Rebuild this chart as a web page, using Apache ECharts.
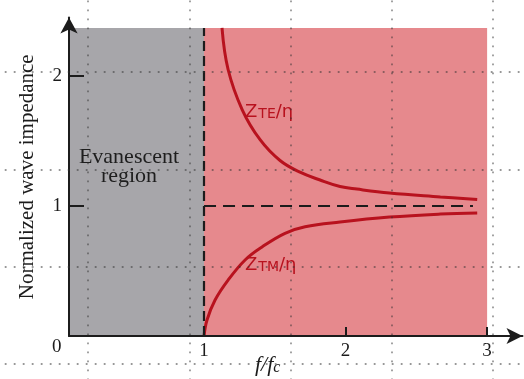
<!DOCTYPE html>
<html>
<head>
<meta charset="utf-8">
<script src="https://cdn.jsdelivr.net/npm/echarts@6/dist/echarts.min.js"></script>
<style>
  html, body { margin: 0; padding: 0; background: #fff; }
  #vis { width: 524px; height: 379px; }
</style>
</head>
<body>
<div id="vis"></div>
<script>
// values (f/fc on x, normalized impedance on y)
const teX = [1.127, 1.17, 1.27, 1.396, 1.537, 1.678, 1.82, 1.961, 2.08, 2.31, 2.67, 2.93];
const teY = [2.37, 2.05, 1.74, 1.51, 1.35, 1.26, 1.20, 1.15, 1.13, 1.10, 1.07, 1.05];
const tmX = [1.0, 1.021, 1.078, 1.17, 1.29, 1.41, 1.572, 1.714, 1.961, 2.31, 2.67, 2.93];
const tmY = [0.0, 0.123, 0.277, 0.43, 0.585, 0.685, 0.79, 0.84, 0.877, 0.915, 0.938, 0.946];
const xLabels = [1, 2, 3];
const xTicks = [2, 3];
const yLabels = [1, 2];
const cutoff = 1;
const shadeTop = 2.37;
const shadeRight = 3;
const dashEnd = 2.9;
// the scan's dotted overlay, in units of its own page grid
const dotCols = [1, 2, 3, 4, 5];
const dotRows = [1, 2, 3, 4];

const vis = document.getElementById("vis");
const chart = echarts.init(vis, null, { renderer: "canvas" });

const serif = "Liberation Serif";
const ink = "#1c1c1c";
const red = "#b8121e";

const toPairs = (xs, ys) => xs.map((x, i) => [x, ys[i]]);

const zLabel = sub => ({
  text: `{z|Z}{s|${sub}}{z|/η}`,
  fill: red,
  rich: {
    z: { fontFamily: "DejaVu Sans", fontSize: 18, fill: red },
    s: { fontFamily: "DejaVu Sans", fontSize: 14, fill: red, padding: [4, 0, 0, 1] }
  }
});

const hiddenAxis = (gridIndex, max) => ({
  type: "value",
  gridIndex,
  min: 0,
  max,
  axisLine: { show: false },
  axisTick: { show: false },
  axisLabel: { show: false },
  splitLine: { show: false }
});

const options = {
  animation: false,
  backgroundColor: "#fff",
  grid: [
    { left: 69, right: 1.5, top: 17.5, bottom: 43, containLabel: false, outerBoundsMode: "none" },
    { left: -13.25, right: -70.25, top: -25.3, bottom: -82.3, containLabel: false, outerBoundsMode: "none" }
  ],
  xAxis: [
    {
      type: "value",
      gridIndex: 0,
      min: 0.046,
      max: 3.25,
      z: 6,
      axisLine: {
        show: true,
        symbol: ["none", "arrow"],
        symbolSize: [12, 16],
        lineStyle: { color: ink, width: 2 }
      },
      axisTick: {
        show: true,
        inside: true,
        length: 9,
        customValues: xTicks,
        lineStyle: { color: ink, width: 2 }
      },
      axisLabel: {
        customValues: xLabels,
        margin: 6,
        fontFamily: serif,
        fontSize: 19,
        color: ink
      },
      splitLine: { show: false }
    },
    hiddenAxis(1, 6)
  ],
  yAxis: [
    {
      type: "value",
      gridIndex: 0,
      min: 0,
      max: 2.45,
      z: 6,
      axisLine: {
        show: true,
        symbol: ["none", "arrow"],
        symbolSize: [13, 16],
        lineStyle: { color: ink, width: 2 }
      },
      axisTick: {
        show: true,
        inside: true,
        length: 15,
        customValues: yLabels,
        lineStyle: { color: ink, width: 2 }
      },
      axisLabel: {
        customValues: yLabels,
        margin: 7,
        fontFamily: serif,
        fontSize: 19,
        color: ink
      },
      splitLine: { show: false },
      name: "Normalized wave impedance",
      nameLocation: "middle",
      nameGap: 31,
      nameTextStyle: { fontFamily: serif, fontSize: 21, color: ink }
    },
    hiddenAxis(1, 5)
  ],
  series: [
    {
      type: "line",
      name: "regions",
      data: [],
      markArea: {
        silent: true,
        z: 0,
        data: [
          [{ coord: [0.046, 0], itemStyle: { color: "#a7a6aa" } }, { coord: [cutoff, shadeTop] }],
          [{ coord: [cutoff, 0], itemStyle: { color: "#e6898d" } }, { coord: [shadeRight, shadeTop] }]
        ],
        label: { show: false }
      },
      markLine: {
        silent: true,
        symbol: "none",
        label: { show: false },
        lineStyle: { color: ink, width: 2.2, type: [10, 5] },
        data: [
          [{ coord: [cutoff, 0] }, { coord: [cutoff, shadeTop] }],
          [{ coord: [cutoff, 1], lineStyle: { type: [12, 7] } }, { coord: [dashEnd, 1] }]
        ]
      },
      z: 1
    },
    {
      type: "line",
      name: "ZTE",
      data: toPairs(teX, teY),
      smooth: 0.4,
      showSymbol: false,
      lineStyle: { color: red, width: 3 },
      z: 3
    },
    {
      type: "line",
      name: "ZTM",
      data: toPairs(tmX, tmY),
      smooth: 0.4,
      showSymbol: false,
      lineStyle: { color: red, width: 3 },
      z: 3
    },
    {
      type: "line",
      name: "dots",
      xAxisIndex: 1,
      yAxisIndex: 1,
      data: [],
      zlevel: 2,
      z: 20,
      markLine: {
        silent: true,
        symbol: "none",
        z: 20,
        label: { show: false },
        lineStyle: { color: "rgba(50,50,50,0.5)", width: 1.8, type: [1.8, 7.2] },
        data: dotCols.map(v => ({ xAxis: v })).concat(dotRows.map(v => ({ yAxis: v })))
      }
    }
  ],
  graphic: [
    {
      type: "text",
      left: 52,
      top: 338,
      style: { text: "0", font: "19px 'Liberation Serif'", fill: ink }
    },
    {
      type: "text",
      x: 129,
      y: 148,
      style: {
        text: "Evanescent\nregion",
        font: "22px 'Liberation Serif'",
        fill: "#1e1e1e",
        align: "center",
        lineHeight: 19
      },
      z: 5
    },
    { type: "text", left: 245, top: 103, style: zLabel("TE"), z: 5 },
    { type: "text", left: 245, top: 256, style: zLabel("TM"), z: 5 },
    {
      type: "text",
      left: 255,
      top: 354,
      style: {
        text: "{f|f/f}{c|c}",
        rich: {
          f: { fontFamily: serif, fontStyle: "italic", fontSize: 22, fill: ink },
          c: { fontFamily: serif, fontStyle: "italic", fontSize: 16, fill: ink, padding: [6, 0, 0, 0] }
        }
      },
      z: 5
    }
  ]
};

chart.setOption(options);
</script>
</body>
</html>
